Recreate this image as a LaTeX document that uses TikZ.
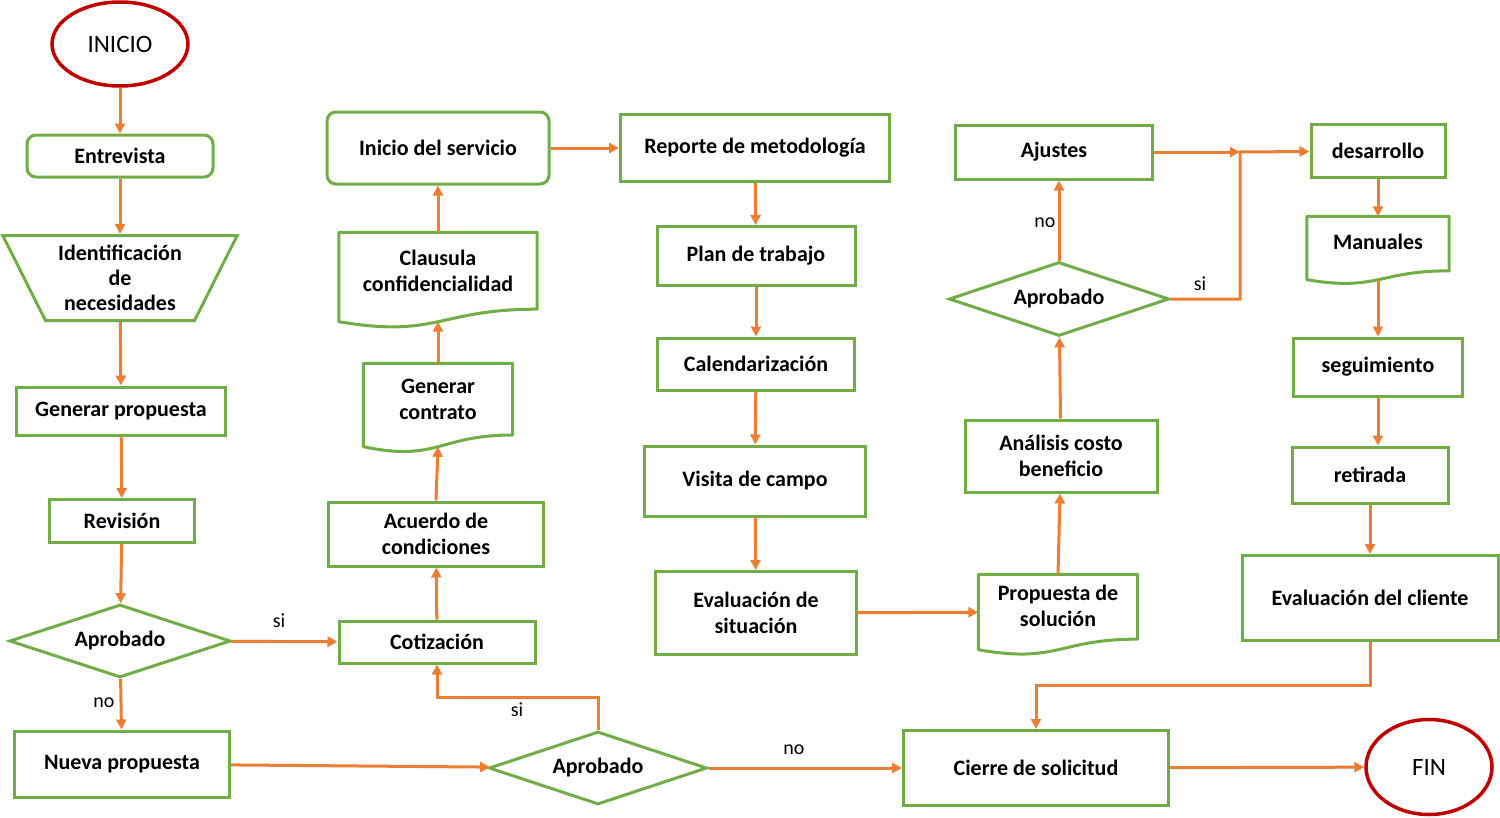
\documentclass[tikz,border=0pt]{standalone}
\usepackage{fontspec}
\setmainfont{Carlito}
\usetikzlibrary{shapes.geometric,arrows.meta,calc}

\definecolor{boxgreen}{RGB}{112,173,71}
\definecolor{floworange}{RGB}{237,125,49}
\definecolor{endred}{RGB}{192,0,0}

\newcommand{\boxfont}{\fontsize{22}{26}\selectfont\bfseries}
% contorno de documento (borde inferior ondulado)
\newcommand{\docoutline}[1]{%
  \draw[boxgreen,line width=3pt,line join=round]
    (#1.north west) -- (#1.north east)
    -- ($(#1.north east)!0.86!(#1.south east)$)
    .. controls ($(#1.north)!0.86!(#1.south)$) and ($(#1.north)!1.187!(#1.south)$) .. (#1.south west)
    -- cycle;}

\begin{document}
\begin{tikzpicture}[x=1pt,y=-1pt,
  procbox/.style={rectangle,draw=boxgreen,line width=3pt,align=center,font=\boxfont,inner sep=2pt},
  roundbox/.style={procbox,rounded corners=9pt},
  decision/.style={diamond,aspect=3,draw=boxgreen,line width=3pt,font=\boxfont,inner sep=0pt},
  docbox/.style={rectangle,align=center,font=\boxfont,inner sep=2pt,text depth=12pt},
  terminal/.style={ellipse,draw=endred,line width=3.5pt,font=\fontsize{25}{30}\selectfont},
  flow/.style={draw=floworange,line width=3pt,-{Triangle[length=10pt,width=10pt]}},
  note/.style={font=\fontsize{20}{24}\selectfont}]
  \useasboundingbox (0,0) rectangle (1500,817);

  % columna 1
  \node[terminal,minimum width=136,minimum height=84] (inicio) at (120,44) {INICIO};
  \node[roundbox,minimum width=186,minimum height=42] (entrev) at (120,156) {Entrevista};
  \node[trapezium,shape border rotate=180,trapezium angle=62,trapezium stretches=true,
        draw=boxgreen,line width=3pt,minimum width=235,minimum height=85,align=center,
        font=\fontsize{22}{25}\selectfont\bfseries,inner sep=1pt] (ident) at (120,278)
        {Identificación\\de\\necesidades};
  \node[procbox,minimum width=209,minimum height=48] (genprop) at (121,411) {Generar propuesta};
  \node[procbox,minimum width=145,minimum height=43] (revis) at (122,521) {Revisión};
  \node[decision,minimum width=221,minimum height=73] (aprob1) at (120,641) {Aprobado};
  \node[procbox,minimum width=215,minimum height=66] (nuevap) at (122,764) {Nueva propuesta};

  % columna 2
  \node[procbox,minimum width=196,minimum height=42] (cotiz) at (437,642) {Cotización};
  \node[procbox,minimum width=215,minimum height=64] (acuerdo) at (436,534) {Acuerdo de\\condiciones};
  \node[docbox,minimum width=149,minimum height=83] (contrato) at (438,405) {Generar\\contrato};
  \node[docbox,minimum width=198,minimum height=89] (clausula) at (438,277) {Clausula\\confidencialidad};
  \node[roundbox,minimum width=222,minimum height=72] (inicserv) at (438,148) {Inicio del servicio};
  \node[decision,minimum width=218,minimum height=73] (aprob2) at (598,768) {Aprobado};

  % columna 3
  \node[procbox,minimum width=269,minimum height=67] (reporte) at (755,148) {Reporte de metodología};
  \node[procbox,minimum width=198,minimum height=59] (plan) at (756,256) {Plan de trabajo};
  \node[procbox,minimum width=197,minimum height=52] (calend) at (756,364) {Calendarización};
  \node[procbox,minimum width=221,minimum height=70] (visita) at (755,481) {Visita de campo};
  \node[procbox,minimum width=201,minimum height=83] (evalsit) at (756,613) {Evaluación de\\situación};

  % columna 4
  \node[docbox,minimum width=159,minimum height=75] (propsol) at (1058,612) {Propuesta de\\solución};
  \node[procbox,minimum width=192,minimum height=72] (analisis) at (1061,456) {Análisis costo\\beneficio};
  \node[decision,minimum width=220,minimum height=74] (aprob3) at (1059,299) {Aprobado};
  \node[procbox,minimum width=197,minimum height=54] (ajustes) at (1054,152) {Ajustes};
  \node[procbox,minimum width=265,minimum height=75] (cierre) at (1036,768) {Cierre de solicitud};

  % columna 5
  \node[procbox,minimum width=134,minimum height=53] (desarr) at (1378,151) {desarrollo};
  \node[docbox,minimum width=142,minimum height=63] (manual) at (1378,248) {Manuales};
  \node[procbox,minimum width=169,minimum height=58] (seguim) at (1378,367) {seguimiento};
  \node[procbox,minimum width=156,minimum height=56] (retir) at (1370,475) {retirada};
  \node[procbox,minimum width=256,minimum height=85] (evalcli) at (1370,598) {Evaluación del cliente};
  \node[terminal,minimum width=126,minimum height=95] (fin) at (1429,767) {FIN};

  \docoutline{contrato}
  \docoutline{clausula}
  \docoutline{propsol}
  \docoutline{manual}

  % etiquetas
  \node[note] (si1) at (279,621) {si};
  \node[note] (no1) at (104,703) {no};
  \node[note] (si2) at (517,710) {si};
  \node[note] (no2) at (794,750) {no};
  \node[note] (no3) at (1045,223) {no};
  \node[note] (si3) at (1200,284) {si};

  \coordinate (sibend) at (598,697);
  \coordinate (junct) at (1240,152);
  \coordinate (clbend) at (1370,685);

  % flechas
  \draw[flow] (inicio) -- (entrev);
  \draw[flow] (entrev) -- (ident);
  \draw[flow] (ident) -- (genprop);
  \draw[flow] (genprop) -- (revis);
  \draw[flow] (revis) -- (aprob1);
  \draw[flow] (aprob1) -- (cotiz);
  \draw[flow] (aprob1) -- (nuevap);
  \draw[flow] (nuevap) -- (aprob2);
  \draw[flow] (aprob2.north) -- (sibend) -| (cotiz.south);
  \draw[flow] (aprob2) -- (cierre);
  \draw[flow] (cotiz) -- (acuerdo);
  \draw[flow] (acuerdo.north) -- (contrato.south);
  \draw[flow] (contrato.north) -- (clausula.south);
  \draw[flow] (clausula) -- (inicserv);
  \draw[flow] (inicserv) -- (reporte);
  \draw[flow] (reporte) -- (plan);
  \draw[flow] (plan) -- (calend);
  \draw[flow] (calend) -- (visita);
  \draw[flow] (visita) -- (evalsit);
  \draw[flow] (evalsit) -- (propsol);
  \draw[flow] (propsol.north) -- (analisis);
  \draw[flow] (analisis) -- (aprob3);
  \draw[flow] (aprob3.north) -- (aprob3.north |- ajustes.south);
  \draw[flow] (ajustes) -- (junct);
  \draw[flow] (aprob3.east) -| (junct) -- (desarr);
  \draw[flow] (desarr) -- (manual);
  \draw[flow] (manual.south) -- (seguim);
  \draw[flow] (seguim.south) -- (seguim.south |- retir.north);
  \draw[flow] (retir) -- (evalcli);
  \draw[flow] (evalcli) -- (clbend) -| (cierre.north);
  \draw[flow] (cierre) -- (fin);
\end{tikzpicture}
\end{document}
